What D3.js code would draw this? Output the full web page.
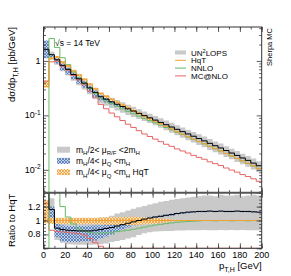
<!DOCTYPE html>
<html>
<head>
<meta charset="utf-8">
<script src="https://cdn.jsdelivr.net/npm/d3@7"></script>
<style>
body { margin: 0; background: #fff; }
text { font-family: "Liberation Sans", Arial, sans-serif; fill: #000; }
</style>
</head>
<body>
<div id="chart"></div>
<script>
// bin edges, 5 GeV
var edges = d3.range(0, 205, 5)

// HqT spectrum [pb/GeV]
var hqt = [0.34, 1.12, 1.18, 0.955, 0.815, 0.66, 0.553, 0.46, 0.376, 0.308,
  0.253, 0.224, 0.197, 0.174, 0.155, 0.1375, 0.1225, 0.109, 0.097, 0.087,
  0.078, 0.0701, 0.0627, 0.0563, 0.0504, 0.0453, 0.0407, 0.0368, 0.0332, 0.0301,
  0.027, 0.0245, 0.0222, 0.02, 0.018, 0.0162, 0.0146, 0.0132, 0.0118, 0.0106]

// everything else as ratio to HqT
var unlops = [4.8, 1.16, 0.89, 0.87, 0.86, 0.855, 0.85, 0.85, 0.85, 0.86,
  0.87, 0.885, 0.9, 0.92, 0.94, 0.96, 0.98, 1.0, 1.02, 1.035,
  1.05, 1.06, 1.075, 1.085, 1.1, 1.11, 1.12, 1.125, 1.13, 1.13,
  1.135, 1.13, 1.135, 1.13, 1.13, 1.135, 1.13, 1.13, 1.125, 1.12]
var nnlo = [-1, 2.3, 1.5, 1.2, 1.05, 0.95, 0.88, 0.85, 0.83, 0.82,
  0.82, 0.82, 0.83, 0.84, 0.85, 0.86, 0.875, 0.89, 0.905, 0.92,
  0.935, 0.945, 0.955, 0.965, 0.975, 0.98, 0.985, 0.99, 0.995, 1.0,
  1.0, 0.995, 1.0, 1.0, 0.995, 1.0, 1.0, 0.995, 1.0, 1.0]
var mcnlo = [1.25, 0.86, 0.84, 0.835, 0.83, 0.82, 0.81, 0.79, 0.74, 0.68,
  0.63, 0.59, 0.56, 0.54, 0.52, 0.5, 0.49, 0.48, 0.47, 0.47,
  0.47, 0.47, 0.47, 0.48, 0.48, 0.49, 0.5, 0.5, 0.51, 0.52,
  0.52, 0.53, 0.54, 0.54, 0.55, 0.56, 0.56, 0.57, 0.58, 0.58]
var hqtRatio = edges.slice(1).map(function(){ return 1 })

// scale bands
var grayLo = [4.0, 0.95, 0.72, 0.68, 0.66, 0.655, 0.65, 0.65, 0.65, 0.655,
  0.66, 0.67, 0.69, 0.705, 0.72, 0.74, 0.76, 0.79, 0.815, 0.83,
  0.84, 0.845, 0.85, 0.85, 0.855, 0.855, 0.86, 0.86, 0.86, 0.865,
  0.86, 0.86, 0.865, 0.86, 0.865, 0.86, 0.865, 0.86, 0.86, 0.86]
var grayHi = [5.6, 1.32, 1.0, 0.98, 0.97, 0.965, 0.965, 0.975, 0.99, 1.01,
  1.03, 1.05, 1.07, 1.1, 1.12, 1.145, 1.17, 1.19, 1.21, 1.23,
  1.25, 1.27, 1.28, 1.3, 1.31, 1.32, 1.33, 1.34, 1.35, 1.36,
  1.36, 1.35, 1.37, 1.36, 1.36, 1.37, 1.35, 1.36, 1.37, 1.36]
var blueLo = [3.3, 1.0, 0.76, 0.7, 0.69, 0.69, 0.69, 0.7, 0.7, 0.71,
  0.74, 0.77, 0.8, 0.84, 0.87, 0.9, 0.93, 0.96, 0.99, 1.01,
  1.03, 1.045, 1.06, 1.07, 1.085, 1.095, 1.105, 1.112, 1.118, 1.12,
  1.125, 1.12, 1.125, 1.12, 1.12, 1.125, 1.12, 1.12, 1.115, 1.11]
var blueHi = [7.0, 1.2, 0.96, 0.93, 0.92, 0.92, 0.92, 0.92, 0.925, 0.93,
  0.93, 0.94, 0.95, 0.965, 0.98, 0.995, 1.01, 1.03, 1.045, 1.055,
  1.065, 1.075, 1.09, 1.1, 1.11, 1.12, 1.13, 1.135, 1.14, 1.14,
  1.145, 1.14, 1.145, 1.14, 1.14, 1.145, 1.14, 1.14, 1.135, 1.13]
var orangeLo = [0.96, 0.95, 0.95, 0.95, 0.95, 0.95, 0.95, 0.95, 0.95, 0.945,
  0.945, 0.94, 0.94, 0.94, 0.94, 0.935, 0.935, 0.94, 0.945, 0.95,
  0.955, 0.965, 0.975, 0.985, 0.99, 0.995, 0.998, 0.998, 0.998, 0.998,
  0.998, 0.998, 0.998, 0.998, 0.998, 0.998, 0.998, 0.998, 0.998, 0.998]
var orangeHi = [1.29, 1.04, 1.04, 1.04, 1.04, 1.04, 1.04, 1.04, 1.04, 1.04,
  1.045, 1.045, 1.05, 1.05, 1.05, 1.055, 1.055, 1.05, 1.045, 1.04,
  1.035, 1.03, 1.022, 1.015, 1.01, 1.005, 1.002, 1.002, 1.002, 1.002,
  1.002, 1.002, 1.002, 1.002, 1.002, 1.002, 1.002, 1.002, 1.002, 1.002]

var xTicks = d3.range(0, 201, 20)
var xMinor = d3.range(0, 201, 10)

var L = 43.5, R = 261.7, T = 27, M = 192.7, B = 248.3

var x = d3.scaleLinear().domain([0, 200]).range([L, R])
var yU = d3.scaleLog().domain([0.0038, 4.2]).range([M, T]).clamp(true)
var yL = d3.scaleLinear().domain([0.6, 1.4]).range([B, M]).clamp(true)

function ly(v) { return yU(v > 0 ? v : 1e-6) }
function abs(r) { return r.map(function(v, i) { return v * hqt[i] }) }

function steps(vals) {
  var pts = []
  vals.forEach(function(v, i) { pts.push([edges[i], v]); pts.push([edges[i + 1], v]) })
  return pts
}
function bandSteps(lo, hi) {
  var pts = []
  lo.forEach(function(v, i) {
    pts.push([edges[i], v, hi[i]]); pts.push([edges[i + 1], v, hi[i]])
  })
  return pts
}

var svg = d3.select("#chart").append("svg").attr("width", 291).attr("height", 276)
var defs = svg.append("defs")

function hatch(id, bg, fg) {
  var p = defs.append("pattern").attr("id", id).attr("patternUnits", "userSpaceOnUse")
    .attr("width", 3).attr("height", 3)
  p.append("rect").attr("width", 3).attr("height", 3).attr("fill", bg)
  p.append("path").attr("d", "M0,0L3,3M3,0L0,3").attr("stroke", fg).attr("stroke-width", 0.7)
}
hatch("hBlue", "#c2d2ea", "#3f68a8")
hatch("hOrange", "#fbe3bd", "#e8952a")

defs.append("clipPath").attr("id", "clipU").append("rect")
  .attr("x", L).attr("y", T).attr("width", R - L).attr("height", M - T)
defs.append("clipPath").attr("id", "clipL").append("rect")
  .attr("x", L).attr("y", M).attr("width", R - L).attr("height", B - M)

var colGray = "#c9c9c9", colOrange = "#eea032", colGreen = "#66bb66", colRed = "#e86464"

function drawPanel(g, yf, conv) {
  var area = d3.area().x(function(d) { return x(d[0]) })
    .y0(function(d) { return yf(d[1]) }).y1(function(d) { return yf(d[2]) })
  var line = d3.line().x(function(d) { return x(d[0]) }).y(function(d) { return yf(d[1]) })

  g.append("path").attr("d", area(bandSteps(conv(grayLo), conv(grayHi)))).attr("fill", colGray)
  g.append("path").attr("d", area(bandSteps(conv(blueLo), conv(blueHi)))).attr("fill", "url(#hBlue)")
  g.append("path").attr("d", area(bandSteps(conv(orangeLo), conv(orangeHi)))).attr("fill", "url(#hOrange)")

  var series = [[mcnlo, colRed], [nnlo, colGreen], [hqtRatio, colOrange], [unlops, "#000"]]
  series.forEach(function(s) {
    g.append("path").attr("d", line(steps(conv(s[0]))))
      .attr("fill", "none").attr("stroke", s[1]).attr("stroke-width", 1)
  })
}

var gU = svg.append("g").attr("clip-path", "url(#clipU)")
drawPanel(gU, ly, abs)
var gL = svg.append("g").attr("clip-path", "url(#clipL)")
drawPanel(gL, yL, function(r) { return r })

// inward ticks, no labels
function ticks(axis, tr, size, vals) {
  var g = svg.append("g").attr("transform", tr)
    .call(axis.tickValues(vals).tickSize(size).tickFormat(""))
  g.select(".domain").remove()
  g.selectAll("line").attr("stroke", "#333").attr("stroke-width", 0.8)
  return g
}
function xt(pos, down) {
  var mk = function() { return down ? d3.axisBottom(x) : d3.axisTop(x) }
  ticks(mk(), "translate(0," + pos + ")", 5, xTicks)
  ticks(mk(), "translate(0," + pos + ")", 2.5, xMinor)
}
xt(T, true); xt(M, false); xt(M, true); xt(B, false)

var logMajor = [0.01, 0.1, 1]
var logMinor = []
;[0.001, 0.01, 0.1, 1].forEach(function(d) {
  d3.range(2, 10).forEach(function(k) {
    var v = k * d
    if (v > 0.0038 && v < 4.2) logMinor.push(v)
  })
})
var linMajor = [0.6, 0.8, 1.0, 1.2, 1.4]
var linMinor = d3.range(0.6, 1.401, 0.05)

function yt(scale, vals, size) {
  ticks(d3.axisRight(scale), "translate(" + L + ",0)", size, vals)
  ticks(d3.axisLeft(scale), "translate(" + R + ",0)", size, vals)
}
yt(yU, logMajor, 5); yt(yU, logMinor, 2.5)
yt(yL, linMajor, 5); yt(yL, linMinor, 2.5)

// frames
svg.append("rect").attr("x", L).attr("y", T).attr("width", R - L).attr("height", B - T)
  .attr("fill", "none").attr("stroke", "#333").attr("stroke-width", 1)
svg.append("line").attr("x1", L).attr("x2", R).attr("y1", M).attr("y2", M)
  .attr("stroke", "#555").attr("stroke-width", 2)

// tick labels
var fs = 9
xTicks.forEach(function(v) {
  svg.append("text").attr("x", x(v)).attr("y", B + 10).attr("text-anchor", "middle")
    .style("font-size", fs + "px").text(v)
})
svg.append("text").attr("x", L - 3).attr("y", yU(1) + 3).attr("text-anchor", "end")
  .style("font-size", fs + "px").text("1")
;[[0.1, "-1"], [0.01, "-2"]].forEach(function(d) {
  var t = svg.append("text").attr("x", L - 3).attr("y", yU(d[0]) + 3).attr("text-anchor", "end")
    .style("font-size", fs + "px")
  t.append("tspan").text("10")
  t.append("tspan").attr("dy", -3.5).style("font-size", "6.5px").text(d[1])
})
;[[1.2, "1.2"], [1.0, "1"], [0.8, "0.8"]].forEach(function(d) {
  svg.append("text").attr("x", L - 3).attr("y", yL(d[0]) + 3).attr("text-anchor", "end")
    .style("font-size", fs + "px").text(d[1])
})

// axis titles
var yt1 = svg.append("text").attr("transform", "translate(15," + T + ") rotate(-90)")
  .attr("text-anchor", "end").style("font-size", "9.5px")
yt1.append("tspan").text("dσ/dp")
yt1.append("tspan").attr("dy", 2.5).style("font-size", "7px").text("T,H")
yt1.append("tspan").attr("dy", -2.5).text(" [pb/GeV]")

svg.append("text").attr("transform", "translate(15," + (M + 1) + ") rotate(-90)")
  .attr("text-anchor", "end").style("font-size", "9.5px").text("Ratio to HqT")

var xl = svg.append("text").attr("x", R).attr("y", 269).attr("text-anchor", "end").style("font-size", "9.5px")
xl.append("tspan").text("p")
xl.append("tspan").attr("dy", 2.5).style("font-size", "7px").text("T,H")
xl.append("tspan").attr("dy", -2.5).text(" [GeV]")

svg.append("text").attr("transform", "translate(272," + (T + 1) + ") rotate(-90)")
  .attr("text-anchor", "end").style("font-size", "7.5px").text("Sherpa MC")

svg.append("text").attr("x", 55).attr("y", 46).style("font-size", "8.5px").text("√s = 14 TeV")

// legend, upper right
var legTop = [["UN", "2", "LOPS", colGray, 4], ["HqT", "", "", colOrange, 1],
  ["NNLO", "", "", colGreen, 1], ["MC@NLO", "", "", colRed, 1]]
legTop.forEach(function(d, i) {
  var cy = 52.5 + i * 7.8
  svg.append("line").attr("x1", 175).attr("x2", 186).attr("y1", cy).attr("y2", cy)
    .attr("stroke", d[3]).attr("stroke-width", d[4])
  var t = svg.append("text").attr("x", 191).attr("y", cy + 3).style("font-size", "8px")
  t.append("tspan").text(d[0])
  if (d[1]) {
    t.append("tspan").attr("dy", -3).style("font-size", "5.5px").text(d[1])
    t.append("tspan").attr("dy", 3).text(d[2])
  }
})

// legend, lower left
var legBot = [[colGray, ["m", "H", "/2< μ", "R/F", " <2m", "H"]],
  ["url(#hBlue)", ["m", "H", "/4< μ", "Q", " <m", "H"]],
  ["url(#hOrange)", ["m", "H", "/4< μ", "Q", " <m", "H", " HqT"]]]
legBot.forEach(function(d, i) {
  var cy = 149.7 + i * 11.2
  svg.append("rect").attr("x", 57).attr("y", cy - 3).attr("width", 13).attr("height", 6).attr("fill", d[0])
  var t = svg.append("text").attr("x", 76).attr("y", cy + 3).style("font-size", "8.5px")
  d[1].forEach(function(s, k) {
    var ts = t.append("tspan").text(s)
    if (k % 2 == 1) ts.attr("dy", 2.5).style("font-size", "6px")
    else if (k > 0) ts.attr("dy", -2.5)
  })
})
</script>
</body>
</html>
